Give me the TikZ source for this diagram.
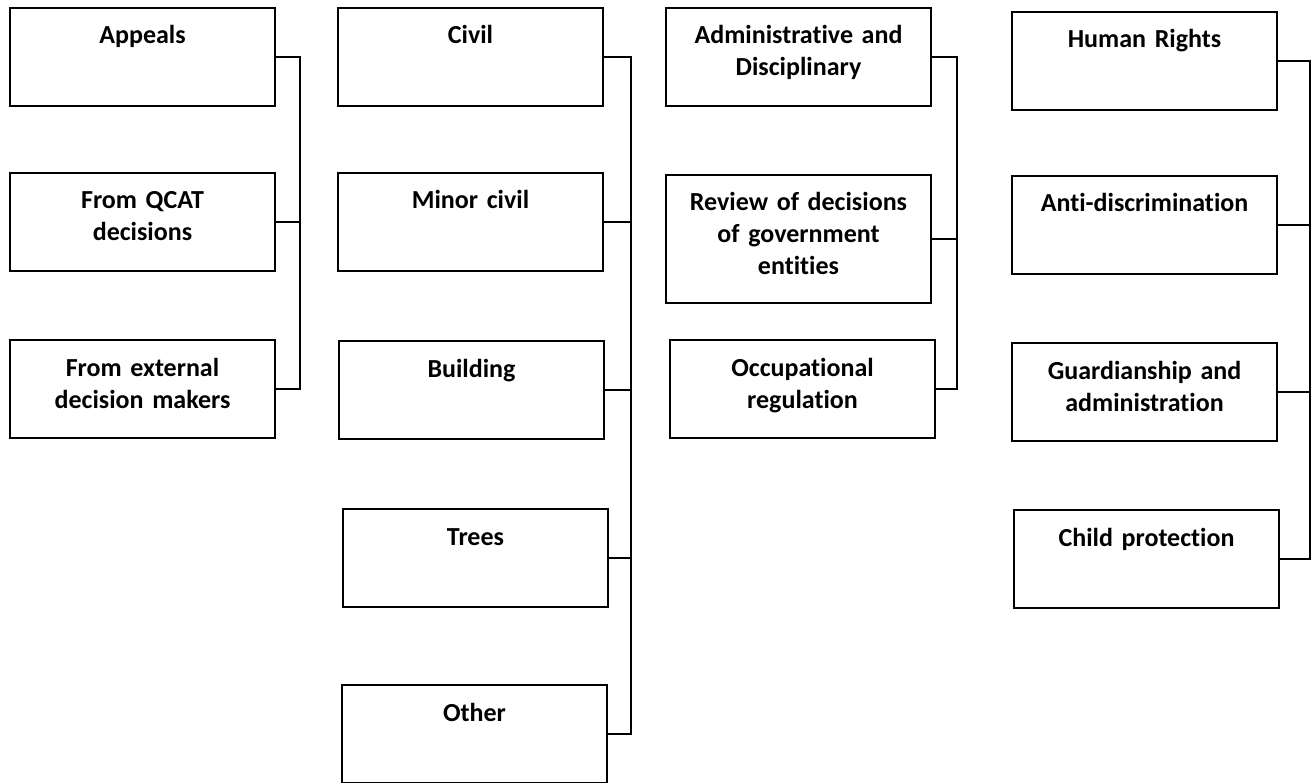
\documentclass[tikz,border=0pt]{standalone}
\usepackage{fontspec}
\setmainfont{Carlito}[Ligatures=CommonOff]
\begin{document}
\begin{tikzpicture}[x=1pt,y=-1pt]
      \useasboundingbox (0,0) rectangle (1316,783);

      \begin{scope}[every node/.style={draw,line width=2pt,anchor=north west,inner sep=0pt,
          text width=265pt,align=center,font=\bfseries\fontsize{26}{32}\selectfont,
          text height=36pt,text depth=62pt}]
        \node (appeals)  at (9,7)     {Appeals};
        \node (qcat)     at (9,172)   {From QCAT\\decisions};
        \node (external) at (9,339)   {From external\\decision makers};
        \node (civil)    at (337,7)   {Civil};
        \node (minor)    at (337,172) {Minor civil};
        \node (building) at (338,340) {Building};
        \node (trees)    at (342,508) {Trees};
        \node (other)    at (341,684) {Other};
        \node (admin)    at (665,7)   {Administrative and\\Disciplinary};
        \node[text depth=92pt] (review) at (665,174) {Review of decisions\\of government\\entities};
        \node (occup)    at (669,339) {Occupational\\regulation};
        \node (rights)   at (1011,11) {Human Rights};
        \node (antidisc) at (1011,175) {Anti-discrimination};
        \node (guard)    at (1011,342) {Guardianship and\\administration};
        \node (child)    at (1013,509) {Child protection};
      \end{scope}

      \coordinate (bus1) at (300,0);
      \coordinate (bus2) at (631,0);
      \coordinate (bus3) at (957,0);
      \coordinate (bus4) at (1310,0);

      \begin{scope}[line width=1.6pt]
        \draw (appeals.east) -| (bus1 |- external.east) -- (external.east);
        \draw (civil.east) -| (bus2 |- other.east) -- (other.east);
        \draw (admin.east) -| (bus3 |- occup.east) -- (occup.east);
        \draw (rights.east) -| (bus4 |- child.east) -- (child.east);

        \begin{scope}[every edge/.style={draw}]
          \path (qcat.east)     edge (qcat.east -| bus1);
          \path (minor.east)    edge (minor.east -| bus2);
          \path (building.east) edge (building.east -| bus2);
          \path (trees.east)    edge (trees.east -| bus2);
          \path (review.east)   edge (review.east -| bus3);
          \path (antidisc.east) edge (antidisc.east -| bus4);
          \path (guard.east)    edge (guard.east -| bus4);
        \end{scope}
      \end{scope}

    \end{tikzpicture}
\end{document}
